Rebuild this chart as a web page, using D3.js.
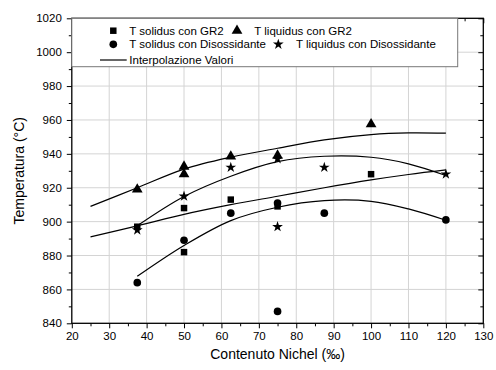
<!DOCTYPE html>
<html>
<head>
<meta charset="utf-8">
<script src="https://cdn.jsdelivr.net/npm/d3@7"></script>
<style>
  body { margin: 0; background: #fff; }
  svg text { font-family: Arial, "Liberation Sans", sans-serif; fill: #000; }
</style>
</head>
<body>
<svg id="chart" width="496" height="370"></svg>
<script>
// measured points
const solidusGR2 = [[37.5, 897], [50, 908], [50, 882], [62.5, 913], [75, 909], [100, 928]];
const liquidusGR2 = [[37.5, 919], [50, 932.5], [50, 928], [62.5, 938.5], [75, 939], [100, 957.5]];
const solidusDis = [[37.5, 864], [50, 889], [62.5, 905], [75, 911], [75, 847], [87.5, 905], [120, 901]];
const liquidusDis = [[37.5, 895], [50, 915], [62.5, 932], [75, 937], [75, 897], [87.5, 932], [120, 928]];

// interpolation curves
const curveLiqGR2 = [[25, 909], [37.5, 920], [50, 931], [62.5, 938], [75, 943.3], [87.5, 948.3], [100, 951.4], [110, 952.4], [120, 952.2]];
const curveLiqDis = [[37.5, 897.5], [50, 914.8], [62.5, 926.8], [75, 935.4], [87.5, 938.6], [100, 938], [110, 934.1], [120, 927.2]];
const curveSolGR2 = [[25, 891], [37.5, 897.5], [50, 904.3], [62.5, 910], [75, 915], [87.5, 920], [100, 924.6], [110, 927.8], [120, 930.5]];
const curveSolDis = [[37.5, 867.7], [50, 885.9], [62.5, 900.6], [75, 908.5], [87.5, 912.4], [100, 912], [110, 907.5], [120, 900.8]];

const xTicks = [20, 30, 40, 50, 60, 70, 80, 90, 100, 110, 120, 130];
const yTicks = [840, 860, 880, 900, 920, 940, 960, 980, 1000, 1020];

const margin = {top: 18.3, right: 12.7, bottom: 46.7, left: 71.8};
const width = 496, height = 370;

const svg = d3.select('#chart');

const x = d3.scaleLinear().domain([20, 130]).range([margin.left, width - margin.right]);
const y = d3.scaleLinear().domain([840, 1020]).range([height - margin.bottom, margin.top]);

const xMinor = d3.range(25, 130, 10);
const yMinor = d3.range(850, 1020, 20);

// grid
svg.append('g').selectAll('line').data(xTicks.slice(1, -1)).enter().append('line')
  .attr('x1', d => x(d)).attr('x2', d => x(d))
  .attr('y1', y(840)).attr('y2', y(1020))
  .attr('stroke', '#d4d4d4').attr('stroke-width', 1);
svg.append('g').selectAll('line').data(yTicks.slice(1, -1)).enter().append('line')
  .attr('x1', x(20)).attr('x2', x(130))
  .attr('y1', d => y(d)).attr('y2', d => y(d))
  .attr('stroke', '#d4d4d4').attr('stroke-width', 1);

// axes: bottom/left outward, top/right inward
function styleAxis(g) {
  g.select('.domain').remove();
  g.selectAll('line').attr('stroke', '#000').attr('stroke-width', 1);
  g.selectAll('text').attr('font-size', 11.5).attr('font-family', 'Arial, "Liberation Sans", sans-serif');
}

const bottom = svg.append('g').attr('transform', `translate(0,${y(840)})`)
  .call(d3.axisBottom(x).tickValues(xTicks).tickSize(5).tickPadding(4).tickFormat(d3.format('d')));
styleAxis(bottom);
svg.append('g').attr('transform', `translate(0,${y(840)})`)
  .call(d3.axisBottom(x).tickValues(xMinor).tickSize(3).tickFormat(''))
  .call(styleAxis);

const left = svg.append('g').attr('transform', `translate(${x(20)},0)`)
  .call(d3.axisLeft(y).tickValues(yTicks).tickSize(5).tickPadding(5).tickFormat(d3.format('d')));
styleAxis(left);
svg.append('g').attr('transform', `translate(${x(20)},0)`)
  .call(d3.axisLeft(y).tickValues(yMinor).tickSize(3).tickFormat(''))
  .call(styleAxis);

svg.append('g').attr('transform', `translate(${x(130)},0)`)
  .call(d3.axisLeft(y).tickValues(yTicks).tickSize(5).tickFormat(''))
  .call(styleAxis);
svg.append('g').attr('transform', `translate(${x(130)},0)`)
  .call(d3.axisLeft(y).tickValues(yMinor).tickSize(3).tickFormat(''))
  .call(styleAxis);
svg.append('g').attr('transform', `translate(0,${y(1020)})`)
  .call(d3.axisBottom(x).tickValues(xTicks).tickSize(5).tickFormat(''))
  .call(styleAxis);
svg.append('g').attr('transform', `translate(0,${y(1020)})`)
  .call(d3.axisBottom(x).tickValues(xMinor).tickSize(3).tickFormat(''))
  .call(styleAxis);

// frame
svg.append('rect')
  .attr('x', x(20)).attr('y', y(1020))
  .attr('width', x(130) - x(20)).attr('height', y(840) - y(1020))
  .attr('fill', 'none').attr('stroke', '#000').attr('stroke-width', 1.3);

// curves
const line = d3.line().x(d => x(d[0])).y(d => y(d[1])).curve(d3.curveCatmullRom);
[curveLiqGR2, curveLiqDis, curveSolGR2, curveSolDis].forEach(c => {
  svg.append('path').attr('d', line(c))
    .attr('fill', 'none').attr('stroke', '#000').attr('stroke-width', 1.2);
});

// markers
const series = [
  {data: solidusGR2, type: d3.symbolSquare, size: 42},
  {data: liquidusGR2, type: d3.symbolTriangle, size: 50},
  {data: solidusDis, type: d3.symbolCircle, size: 46},
  {data: liquidusDis, type: d3.symbolStar, size: 36}
];
series.forEach(s => {
  svg.append('g').selectAll('path').data(s.data).enter().append('path')
    .attr('transform', d => `translate(${x(d[0])},${y(d[1])})`)
    .attr('d', d3.symbol().type(s.type).size(s.size))
    .attr('fill', '#000');
});

// legend
const lg = svg.append('g');
lg.append('rect')
  .attr('x', x(20)).attr('y', y(1020))
  .attr('width', 457.7 - x(20)).attr('height', 66.7 - y(1020))
  .attr('fill', '#fff').attr('stroke', '#777').attr('stroke-width', 1);

const legendItems = [
  {label: 'T solidus con GR2', type: d3.symbolSquare, size: 42, mx: 113.3, tx: 129.3, ty: 30.7},
  {label: 'T liquidus con GR2', type: d3.symbolTriangle, size: 50, mx: 237, tx: 254.3, ty: 30.7},
  {label: 'T solidus con Disossidante', type: d3.symbolCircle, size: 46, mx: 113.3, tx: 129.3, ty: 44.3},
  {label: 'T liquidus con Disossidante', type: d3.symbolStar, size: 36, mx: 278.3, tx: 296, ty: 44.3}
];
legendItems.forEach(it => {
  lg.append('path')
    .attr('transform', `translate(${it.mx},${it.ty})`)
    .attr('d', d3.symbol().type(it.type).size(it.size))
    .attr('fill', '#000');
  lg.append('text').attr('x', it.tx).attr('y', it.ty).attr('dy', '0.35em')
    .attr('font-size', 11.5).text(it.label);
});
lg.append('line').attr('x1', 100).attr('x2', 126.7).attr('y1', 60).attr('y2', 60)
  .attr('stroke', '#000').attr('stroke-width', 1.2);
lg.append('text').attr('x', 129.3).attr('y', 60).attr('dy', '0.35em')
  .attr('font-size', 11.5).text('Interpolazione Valori');

// axis titles
svg.append('text')
  .attr('x', (x(20) + x(130)) / 2).attr('y', 354).attr('dy', '0.35em')
  .attr('text-anchor', 'middle').attr('font-size', 14)
  .text('Contenuto Nichel (‰)');
svg.append('text')
  .attr('transform', `translate(18.7,${(y(840) + y(1020)) / 2}) rotate(-90)`)
  .attr('dy', '0.35em')
  .attr('text-anchor', 'middle').attr('font-size', 14)
  .text('Temperatura (°C)');
</script>
</body>
</html>
